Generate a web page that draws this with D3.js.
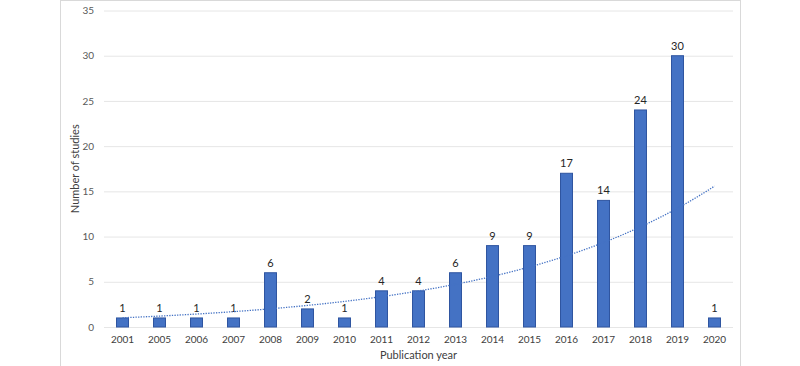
<!DOCTYPE html>
<html>
<head>
<meta charset="utf-8">
<script src="https://cdn.jsdelivr.net/npm/d3@7"></script>
<style>
  body { margin: 0; background: #fff; }
  text { font-family: Lato, "Open Sans", sans-serif; }
</style>
</head>
<body>
<svg id="svg" width="800" height="366"></svg>
<script>
const years = ['2001', '2005', '2006', '2007', '2008', '2009', '2010', '2011', '2012',
  '2013', '2014', '2015', '2016', '2017', '2018', '2019', '2020']
const studies = [1, 1, 1, 1, 6, 2, 1, 4, 4, 6, 9, 9, 17, 14, 24, 30, 1]
const yTicks = [0, 5, 10, 15, 20, 25, 30, 35]

const data = years.map((year, i) => ({ year, value: studies[i] }))

const plotLeft = 104
const plotRight = 733
const plotTop = 10.5
const plotBottom = 327

const svg = d3.select('#svg')

// chart frame
svg.append('rect')
  .attr('x', 60.5)
  .attr('y', 0.5)
  .attr('width', 680)
  .attr('height', 380)
  .attr('fill', 'none')
  .attr('stroke', '#d9d9d9')

const xScale = d3.scaleBand()
  .domain(years)
  .range([plotLeft, plotRight])
  .paddingInner(0.676)
  .paddingOuter(0.338)

const yScale = d3.scaleLinear()
  .domain([0, 35])
  .range([plotBottom, plotTop])

// gridlines + y labels
const yAxis = d3.axisLeft(yScale)
  .tickValues(yTicks)
  .tickSize(-(plotRight - plotLeft))
  .tickPadding(10)

const yg = svg.append('g')
  .attr('transform', `translate(${plotLeft}, 0)`)
  .call(yAxis)
yg.select('.domain').remove()
yg.selectAll('line').attr('stroke', '#e6e6e6')
yg.selectAll('text')
  .attr('fill', '#595959')
  .attr('font-size', 10)

const xAxis = d3.axisBottom(xScale).tickSize(0).tickPadding(9)
const xg = svg.append('g')
  .attr('transform', `translate(0, ${plotBottom})`)
  .call(xAxis)
xg.select('.domain').remove()
xg.selectAll('text')
  .attr('fill', '#404040')
  .attr('font-size', 10)

// bars
svg.append('g')
  .selectAll('rect')
  .data(data)
  .join('rect')
  .attr('x', d => xScale(d.year))
  .attr('y', d => yScale(d.value))
  .attr('width', xScale.bandwidth())
  .attr('height', d => plotBottom - yScale(d.value))
  .attr('fill', '#4472c4')
  .attr('stroke', '#2f55a0')
  .attr('stroke-width', 1)

// value labels
svg.append('g')
  .selectAll('text')
  .data(data)
  .join('text')
  .attr('x', d => xScale(d.year) + xScale.bandwidth() / 2)
  .attr('y', d => yScale(d.value) - 6)
  .attr('text-anchor', 'middle')
  .attr('font-size', 11)
  .attr('fill', '#262626')
  .text(d => d.value)

// exponential trendline (least squares on ln y, like Excel)
const xs = data.map((d, i) => i + 1)
const lys = data.map(d => Math.log(d.value))
const mx = d3.mean(xs)
const my = d3.mean(lys)
const b = d3.sum(xs, (x, i) => (x - mx) * (lys[i] - my)) / d3.sum(xs, x => (x - mx) ** 2)
const a = Math.exp(my - b * mx)

const trend = d3.range(1, years.length + 0.001, 0.1)
const step = xScale.step()
const x0 = xScale(years[0]) + xScale.bandwidth() / 2

const trendLine = d3.line()
  .x(t => x0 + (t - 1) * step)
  .y(t => yScale(a * Math.exp(b * t)))

svg.append('path')
  .attr('d', trendLine(trend))
  .attr('fill', 'none')
  .attr('stroke', '#4472c4')
  .attr('stroke-width', 1.3)
  .attr('stroke-dasharray', '1.3,1.3')

// axis titles
svg.append('text')
  .attr('x', (plotLeft + plotRight) / 2)
  .attr('y', 359)
  .attr('text-anchor', 'middle')
  .attr('font-size', 11)
  .attr('fill', '#404040')
  .text('Publication year')

svg.append('text')
  .attr('transform', `translate(79, ${(plotTop + plotBottom) / 2}) rotate(-90)`)
  .attr('text-anchor', 'middle')
  .attr('font-size', 11)
  .attr('fill', '#404040')
  .text('Number of studies')
</script>
</body>
</html>
